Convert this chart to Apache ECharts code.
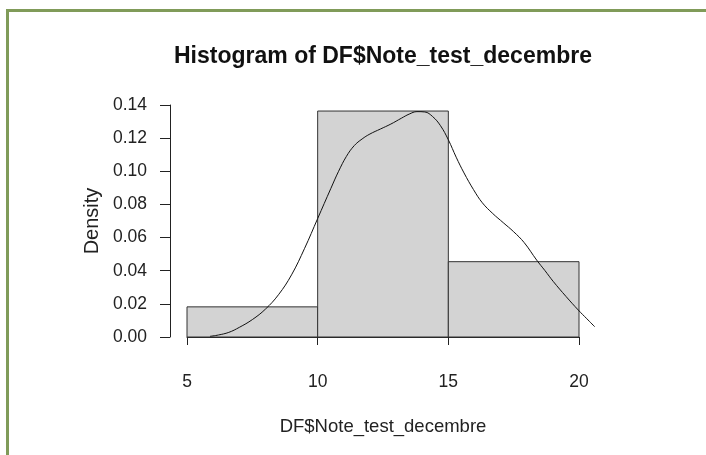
<!DOCTYPE html>
<html>
<head>
<meta charset="utf-8">
<script src="https://cdn.jsdelivr.net/npm/echarts@6/dist/echarts.min.js"></script>
<style>
  html, body { margin: 0; padding: 0; background: #fff; }
  #wrap { position: relative; width: 706px; height: 455px; overflow: hidden; }
  #frame { position: absolute; left: 6px; top: 9px; right: -10px; bottom: -10px;
           border-left: 3px solid #809b59; border-top: 3px solid #809b59; }
  #chart { position: absolute; left: 0; top: 0; width: 706px; height: 455px; }
</style>
</head>
<body>
<div id="wrap">
  <div id="frame"></div>
  <div id="chart"></div>
</div>
<script>
// histogram classes (breaks) and densities
const binStart = [5, 10, 15];
const binEnd = [10, 15, 20];
const binDensity = [0.01818, 0.13636, 0.04545];

// density curve
const curveX = [5.88, 6.2, 6.6, 7.0, 7.5, 8.0, 8.5, 9.0, 9.5, 10.0, 10.5, 10.8, 11.1, 11.4, 11.7, 12.0, 12.4, 12.8, 13.2, 13.5, 13.8, 14.1, 14.4, 14.7, 15.0, 15.3, 15.6, 15.96, 16.3, 16.7, 17.1, 17.5, 17.9, 18.38, 18.7, 19.02, 19.5, 19.97, 20.3, 20.6];
const curveY = [0.0004, 0.0012, 0.0028, 0.0058, 0.0105, 0.0168, 0.0255, 0.0375, 0.0535, 0.0715, 0.0895, 0.1000, 0.1090, 0.1155, 0.1195, 0.1225, 0.1255, 0.1285, 0.1320, 0.1345, 0.1360, 0.1358, 0.1330, 0.1275, 0.1190, 0.1085, 0.0990, 0.0890, 0.0810, 0.0745, 0.0690, 0.0635, 0.0570, 0.0464, 0.0400, 0.0334, 0.0245, 0.0163, 0.0110, 0.0062];

const chart = echarts.init(document.getElementById('chart'));

const font = 'Liberation Sans, Arial, sans-serif';
const ink = '#222';

const option = {
    animation: false,
    title: {
        text: 'Histogram of DF$Note_test_decembre',
        left: 169,
        top: 40,
        textStyle: { fontFamily: font, fontSize: 23, fontWeight: 'bold', color: '#111' }
    },
    grid: [
        { left: 187, right: 127, top: 105, bottom: 118 },
        // same scale, wider extent so the density curve can run past 20
        { left: 187, right: 111.3, top: 105, bottom: 118 }
    ],
    xAxis: [
        {
            type: 'value',
            gridIndex: 0,
            min: 5,
            max: 20,
            interval: 5,
            offset: 10,
            name: 'DF$Note_test_decembre',
            nameLocation: 'middle',
            nameGap: 70,
            nameTextStyle: { fontFamily: font, fontSize: 18.5, color: ink },
            axisLine: { lineStyle: { color: ink, width: 1 } },
            axisTick: { length: 8, lineStyle: { color: ink } },
            axisLabel: { fontFamily: font, fontSize: 17.5, color: ink, margin: 26 },
            splitLine: { show: false }
        },
        {
            type: 'value',
            gridIndex: 1,
            min: 5,
            max: 20.6,
            show: false
        }
    ],
    yAxis: [
        {
            type: 'value',
            gridIndex: 0,
            min: 0,
            max: 0.14,
            interval: 0.02,
            offset: 17,
            name: 'Density',
            nameLocation: 'middle',
            nameGap: 67,
            nameTextStyle: { fontFamily: font, fontSize: 20, color: ink },
            axisLine: { show: true, lineStyle: { color: ink, width: 1 } },
            axisTick: { show: true, length: 10, lineStyle: { color: ink } },
            axisLabel: {
                fontFamily: font, fontSize: 17.5, color: ink, margin: 23,
                formatter: v => v.toFixed(2)
            },
            splitLine: { show: false }
        },
        {
            type: 'value',
            gridIndex: 1,
            min: 0,
            max: 0.14,
            show: false
        }
    ],
    series: [
        {
            type: 'custom',
            xAxisIndex: 0,
            yAxisIndex: 0,
            data: binStart.map((s, i) => [s, binEnd[i], binDensity[i]]),
            renderItem: function (params, api) {
                const p0 = api.coord([api.value(0), 0]);
                const p1 = api.coord([api.value(1), api.value(2)]);
                return {
                    type: 'rect',
                    shape: { x: p0[0], y: p1[1], width: p1[0] - p0[0], height: p0[1] - p1[1] },
                    style: { fill: '#d3d3d3', stroke: '#333', lineWidth: 1 }
                };
            },
            z: 1
        },
        {
            type: 'line',
            xAxisIndex: 1,
            yAxisIndex: 1,
            data: curveX.map((x, i) => [x, curveY[i]]),
            smooth: 0.4,
            showSymbol: false,
            clip: false,
            lineStyle: { color: '#111', width: 1 },
            z: 2
        }
    ]
};

chart.setOption(option);

window.addEventListener('resize', function() {
    chart.resize();
});
</script>
</body>
</html>
